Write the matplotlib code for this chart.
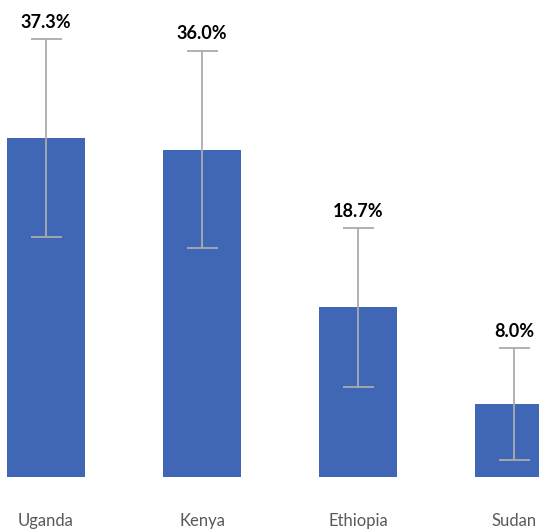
import matplotlib
matplotlib.use("Agg")
import matplotlib.pyplot as plt

countries = ["Uganda", "Kenya", "Ethiopia", "Sudan"]
values = [37.3, 36.0, 18.7, 8.0]
err_upper = [48.2, 46.9, 27.4, 14.2]
err_lower = [26.4, 25.2, 9.9, 1.9]

fig = plt.figure(figsize=(5.39, 5.31), dpi=100)
ax = fig.add_axes([0, 1 - 477 / 531, 1, 477 / 531])

x = list(range(len(countries)))
yerr = [[v - lo for v, lo in zip(values, err_lower)],
        [hi - v for v, hi in zip(values, err_upper)]]
ax.bar(x, values, width=0.5, color="#4066B6", zorder=2)
ax.errorbar(x, values, yerr=yerr, fmt="none", ecolor="#ABABAB", elinewidth=1.3,
            capsize=15.5 * 0.72, capthick=1.3, zorder=3)
for xi, hi, v in zip(x, err_upper, values):
    ax.text(xi, hi + 0.9, f"{v:.1f}%", ha="center", va="bottom",
            fontsize=13, fontweight="bold", family="Lato", color="black")

ax.set_xlim(-46 / 156, 3 + 25 / 156)
ax.set_ylim(0, 477 / 9.09)
ax.set_xticks(x)
ax.set_xticklabels(countries, family="Lato", fontsize=12, color="#595959")
ax.tick_params(axis="x", length=0, pad=26)
ax.set_yticks([])
for s in ax.spines.values():
    s.set_visible(False)

fig.savefig("out.png", dpi=100)
